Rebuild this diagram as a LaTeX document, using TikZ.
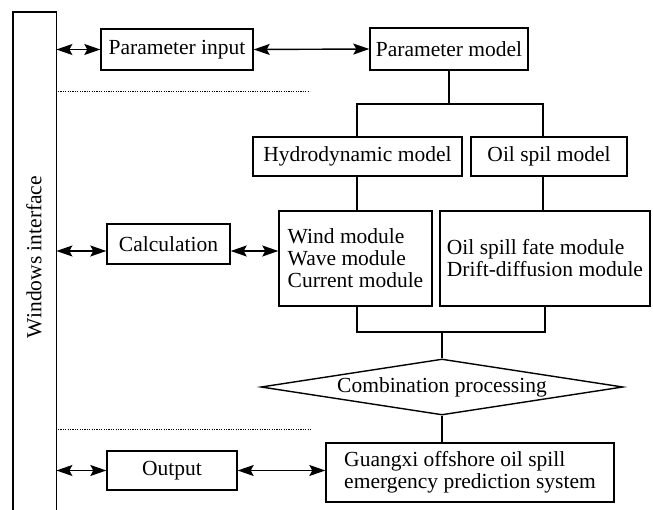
\documentclass[tikz,border=0pt]{standalone}
\usepackage{fontspec}
\setmainfont{Liberation Serif}
\usetikzlibrary{arrows.meta,shapes.geometric}
\begin{document}
\begin{tikzpicture}[x=1bp,y=-1bp, line width=1.4bp,
  txt/.style={font=\fontsize{21.5bp}{22bp}\selectfont},
  box/.style={draw, rectangle, inner sep=1bp, txt},
  tip/.tip={Stealth[length=16bp,width=11bp,inset=3bp]},
  biarrow/.style={tip-tip},
  sepline/.style={line width=1bp, dash pattern=on 1.2bp off 1.2bp}]
\useasboundingbox (0,0) rectangle (653,510);
% Windows interface
\node[inner sep=0, minimum width=42bp, minimum height=502bp, anchor=north west] (win) at (13,12) {};
\draw (win.south west) -- (win.north west) -- (win.north east) -- (win.south east);
\node[txt, rotate=90] (wintext) at (34,257) {Windows interface};
% top row
\node[box, minimum width=152bp, minimum height=41bp] (pin) at (177,49.5) {Parameter input};
\node[box, minimum width=158bp, minimum height=42bp] (pmodel) at (449,49) {Parameter model};
\draw[biarrow] (win.east |- pin) -- (pin.west);
\draw[biarrow] (pin.east) -- (pmodel.west);
% separators
\coordinate (d1a) at (58,92);
\coordinate (d1b) at (310,92);
\coordinate (d2a) at (58,429);
\coordinate (d2b) at (312,429);
\draw[sepline] (d1a) -- (d1b);
\draw[sepline] (d2a) -- (d2b);
% models
\node[box, minimum width=209bp, minimum height=39bp] (hydro) at (357.5,156.5) {Hydrodynamic model};
\node[box, minimum width=156bp, minimum height=39bp] (oilm) at (549,156.5) {Oil spil model};
\coordinate (j1) at (449,104);
\draw (pmodel.south) -- (j1);
\draw ([xshift=-0.5bp]hydro.north) |- (j1) -| ([xshift=-6bp]oilm.north);
% modules
\node[box, align=left, minimum width=153bp, minimum height=95bp] (wind) at (355.5,258.5) {Wind module\\Wave module\\Current module};
\node[box, align=left, minimum width=210bp, minimum height=95bp] (fate) at (545,258.5) {Oil spill fate module\\Drift-diffusion module};
\draw ([xshift=-0.5bp]hydro.south) -- ([xshift=-0.5bp]hydro.south |- wind.north);
\draw ([xshift=-6bp]oilm.south) -- ([xshift=-6bp]oilm.south |- fate.north);
% calculation
\node[box, minimum width=123bp, minimum height=40bp] (calc) at (168.5,244) {Calculation};
\coordinate (cw) at ([yshift=-7bp]calc.west);
\coordinate (ce) at ([yshift=-7bp]calc.east);
\draw[biarrow] (win.east |- cw) -- (cw);
\draw[biarrow] (ce) -- (wind.west |- ce);
% combination
\node[draw, diamond, aspect=6.46, inner sep=0pt, minimum width=362bp, minimum height=56bp, txt] (comb) at (442,387) {Combination processing};
\coordinate (j2) at (442,332);
\draw ([xshift=1.5bp]wind.south) |- (j2) -| (fate.south);
\draw (j2) -- (comb.north);
% output
\node[box, minimum width=130bp, minimum height=39bp] (out) at (172,470.5) {Output};
\node[box, align=left, minimum width=288bp, minimum height=59bp] (gx) at (470,472.5) {Guangxi offshore oil spill\\emergency prediction system};
\draw[biarrow] (win.east |- out) -- (out.west);
\draw[biarrow] (out.east) -- (gx.west |- out.east);
\draw (comb.south) -- (comb.south |- gx.north);
\end{tikzpicture}
\end{document}
